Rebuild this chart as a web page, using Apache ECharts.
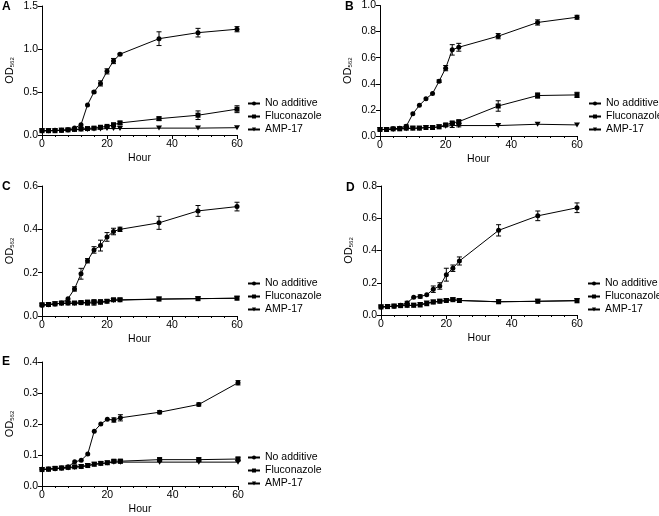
<!DOCTYPE html>
<html>
<head>
<meta charset="utf-8">
<script src="https://cdn.jsdelivr.net/npm/echarts@6/dist/echarts.min.js"></script>
<style>
  html, body { margin: 0; padding: 0; background: #fff; }
  #main { width: 659px; height: 516px; }
</style>
</head>
<body>
<div id="main"></div>
<script>
const hours = [0, 2, 4, 6, 8, 10, 12, 14, 16, 18, 20, 22, 24, 36, 48, 60];
const seriesNames = ['No additive', 'Fluconazole', 'AMP-17'];

// panel A
const noA = [0.05, 0.05, 0.055, 0.055, 0.06, 0.08, 0.12, 0.35, 0.50, 0.60, 0.74, 0.86, 0.94, 1.12, 1.19, 1.23];
const noAErr = [0, 0, 0, 0, 0, 0, 0, 0, 0.01, 0.03, 0.03, 0.03, 0.01, 0.08, 0.05, 0.03];
const flA = [0.05, 0.05, 0.05, 0.055, 0.06, 0.065, 0.07, 0.075, 0.08, 0.09, 0.10, 0.12, 0.14, 0.19, 0.23, 0.30];
const flAErr = [0, 0, 0, 0, 0, 0, 0, 0, 0, 0, 0.01, 0.01, 0.02, 0.02, 0.05, 0.04];
const ampA = [0.05, 0.05, 0.05, 0.055, 0.055, 0.06, 0.065, 0.065, 0.07, 0.07, 0.075, 0.075, 0.075, 0.08, 0.08, 0.085];
const ampAErr = [0, 0, 0, 0, 0, 0, 0, 0, 0, 0, 0, 0, 0, 0, 0, 0];

// panel B
const noB = [0.05, 0.05, 0.055, 0.06, 0.075, 0.17, 0.235, 0.285, 0.325, 0.42, 0.52, 0.66, 0.68, 0.765, 0.87, 0.91];
const noBErr = [0, 0, 0, 0, 0.01, 0, 0, 0, 0, 0.01, 0.02, 0.04, 0.03, 0.02, 0.02, 0.015];
const flB = [0.05, 0.05, 0.055, 0.055, 0.06, 0.06, 0.06, 0.065, 0.065, 0.07, 0.085, 0.10, 0.11, 0.23, 0.31, 0.315];
const flBErr = [0, 0, 0, 0, 0, 0, 0, 0, 0, 0, 0.01, 0.01, 0.01, 0.04, 0.02, 0.02];
const ampB = [0.05, 0.05, 0.05, 0.055, 0.055, 0.06, 0.06, 0.065, 0.065, 0.07, 0.075, 0.08, 0.08, 0.08, 0.09, 0.085];
const ampBErr = [0, 0, 0, 0, 0, 0, 0, 0, 0, 0, 0, 0.015, 0.01, 0, 0, 0];

// panel C
const noC = [0.05, 0.052, 0.055, 0.06, 0.08, 0.125, 0.195, 0.255, 0.305, 0.325, 0.365, 0.39, 0.40, 0.43, 0.485, 0.505];
const noCErr = [0, 0, 0, 0, 0, 0.01, 0.025, 0.01, 0.015, 0.025, 0.02, 0.015, 0.01, 0.03, 0.025, 0.02];
const flC = [0.052, 0.053, 0.056, 0.06, 0.06, 0.06, 0.062, 0.063, 0.065, 0.065, 0.068, 0.075, 0.075, 0.078, 0.08, 0.082];
const flCErr = [0, 0, 0, 0, 0, 0.005, 0.005, 0.01, 0.01, 0.01, 0, 0, 0, 0, 0, 0];
const ampC = [0.05, 0.053, 0.056, 0.058, 0.058, 0.058, 0.06, 0.06, 0.06, 0.062, 0.066, 0.072, 0.073, 0.078, 0.08, 0.082];
const ampCErr = [0, 0, 0, 0, 0, 0, 0, 0.01, 0.01, 0, 0, 0, 0, 0, 0, 0];

// panel D
const noD = [0.05, 0.052, 0.055, 0.06, 0.075, 0.11, 0.115, 0.125, 0.16, 0.18, 0.25, 0.29, 0.335, 0.525, 0.615, 0.665];
const noDErr = [0, 0, 0, 0, 0.01, 0, 0.01, 0, 0.02, 0.02, 0.04, 0.02, 0.025, 0.035, 0.03, 0.03];
const flD = [0.05, 0.052, 0.055, 0.058, 0.06, 0.06, 0.062, 0.07, 0.08, 0.085, 0.09, 0.095, 0.09, 0.082, 0.085, 0.088];
const flDErr = [0, 0, 0, 0, 0, 0, 0, 0, 0.005, 0.005, 0.005, 0.005, 0, 0, 0, 0];
const ampD = [0.05, 0.052, 0.055, 0.058, 0.058, 0.06, 0.065, 0.075, 0.08, 0.085, 0.09, 0.095, 0.09, 0.082, 0.085, 0.09];
const ampDErr = [0, 0, 0, 0, 0, 0, 0, 0, 0, 0, 0, 0, 0, 0, 0, 0];

// panel E
const noE = [0.054, 0.055, 0.056, 0.058, 0.062, 0.078, 0.083, 0.103, 0.177, 0.2, 0.215, 0.213, 0.22, 0.238, 0.263, 0.333];
const noEErr = [0, 0, 0, 0, 0, 0, 0, 0, 0, 0, 0, 0.007, 0.01, 0.005, 0.005, 0.007];
const flE = [0.053, 0.054, 0.057, 0.058, 0.06, 0.062, 0.063, 0.066, 0.07, 0.073, 0.075, 0.08, 0.08, 0.085, 0.085, 0.087];
const flEErr = [0, 0, 0, 0, 0, 0, 0, 0, 0, 0, 0, 0.005, 0.006, 0.006, 0.006, 0.006];
const ampE = [0.053, 0.054, 0.056, 0.057, 0.058, 0.06, 0.062, 0.066, 0.07, 0.072, 0.074, 0.077, 0.077, 0.077, 0.077, 0.077];
const ampEErr = [0, 0, 0, 0, 0, 0, 0, 0, 0, 0, 0, 0, 0, 0, 0, 0];

const panels = [
  { label: 'A', left: 42, top: 6, width: 195, height: 129, max: 1.5, step: 0.5, legend: [247, 98],
    data: [[noA, noAErr], [flA, flAErr], [ampA, ampAErr]], title: [2, 1] },
  { label: 'B', left: 380, top: 5, width: 197, height: 131, max: 1.0, step: 0.2, legend: [588, 98],
    data: [[noB, noBErr], [flB, flBErr], [ampB, ampBErr]], title: [345, 1] },
  { label: 'C', left: 42, top: 186, width: 195, height: 130, max: 0.6, step: 0.2, legend: [247, 278],
    data: [[noC, noCErr], [flC, flCErr], [ampC, ampCErr]], title: [2, 181] },
  { label: 'D', left: 381, top: 186, width: 196, height: 129, max: 0.8, step: 0.2, legend: [587, 278],
    data: [[noD, noDErr], [flD, flDErr], [ampD, ampDErr]], title: [346, 182] },
  { label: 'E', left: 42, top: 362, width: 196, height: 130, max: 0.4, step: 0.1, legend: [247, 452],
    data: [[noE, noEErr], [flE, flEErr], [ampE, ampEErr]], title: [2, 356] }
];

const symbols = ['circle', 'rect', 'path://M0,0 L10,0 L5,9 Z'];
const symbolSizes = [5, 5, [6, 5]];
const font = 'Liberation Sans, Arial, sans-serif';

function errItem(params, api) {
  const x = api.value(0), y = api.value(1), e = api.value(2);
  if (!e) return null;
  const hi = api.coord([x, y + e]);
  const lo = api.coord([x, y - e]);
  const w = 2.5;
  const st = { stroke: '#000', lineWidth: 1 };
  return {
    type: 'group',
    children: [
      { type: 'line', shape: { x1: hi[0], y1: hi[1], x2: lo[0], y2: lo[1] }, style: st },
      { type: 'line', shape: { x1: hi[0] - w, y1: hi[1], x2: hi[0] + w, y2: hi[1] }, style: st },
      { type: 'line', shape: { x1: lo[0] - w, y1: lo[1], x2: lo[0] + w, y2: lo[1] }, style: st }
    ]
  };
}

const grid = [], xAxis = [], yAxis = [], series = [], legend = [], title = [];

panels.forEach((p, gi) => {
  grid.push({ left: p.left, top: p.top, width: p.width, height: p.height });
  title.push({ text: p.label, left: p.title[0], top: p.title[1], padding: 0,
    textStyle: { fontSize: 12, fontWeight: 'bold', color: '#000', fontFamily: font } });
  xAxis.push({
    gridIndex: gi, type: 'value', min: 0, max: 60, interval: 20,
    name: 'Hour', nameLocation: 'middle', nameGap: 18,
    nameTextStyle: { fontSize: 10.5, color: '#000', fontFamily: font },
    axisLine: { lineStyle: { color: '#000', width: 1 } },
    axisTick: { length: 4, lineStyle: { color: '#000' } },
    minorTick: { show: true, splitNumber: 5, length: 2, lineStyle: { color: '#000' } },
    axisLabel: { fontSize: 10.5, color: '#000', margin: 4, fontFamily: font },
    splitLine: { show: false }
  });
  yAxis.push({
    gridIndex: gi, type: 'value', min: 0, max: p.max, interval: p.step,
    name: 'OD{s|562}', nameLocation: 'middle', nameGap: 27,
    nameTextStyle: { fontSize: 11, color: '#000', fontFamily: font,
      rich: { s: { fontSize: 6, verticalAlign: 'bottom', color: '#000', fontFamily: font } } },
    axisLine: { show: true, lineStyle: { color: '#000', width: 1 } },
    axisTick: { show: true, length: 4, lineStyle: { color: '#000' } },
    axisLabel: { fontSize: 10.5, color: '#000', margin: 4, fontFamily: font,
      formatter: v => v.toFixed(1) },
    splitLine: { show: false }
  });
  legend.push({
    data: seriesNames, orient: 'vertical', left: p.legend[0], top: p.legend[1],
    padding: 0, itemGap: 2, itemWidth: 12, itemHeight: 5,
    textStyle: { fontSize: 10.5, color: '#000', fontFamily: font }
  });
  p.data.forEach(([vals, errs], si) => {
    series.push({
      name: seriesNames[si], type: 'line', xAxisIndex: gi, yAxisIndex: gi,
      data: hours.map((h, i) => [h, vals[i]]),
      symbol: symbols[si], symbolSize: symbolSizes[si],
      lineStyle: { color: '#000', width: 1 },
      itemStyle: { color: '#000' },
      z: 3 - si
    });
    series.push({
      type: 'custom', xAxisIndex: gi, yAxisIndex: gi,
      data: hours.map((h, i) => [h, vals[i], errs[i]]),
      renderItem: errItem, silent: true, z: 4
    });
  });
});

const chart = echarts.init(document.getElementById('main'));
chart.setOption({
  animation: false,
  backgroundColor: '#fff',
  title, grid, xAxis, yAxis, legend, series
});
</script>
</body>
</html>
